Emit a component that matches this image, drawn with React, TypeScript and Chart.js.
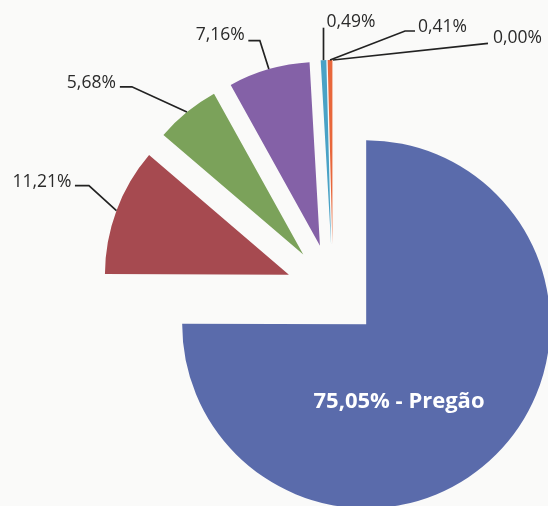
import React, { useEffect, useRef } from "react";
import { Chart, registerables } from "chart.js";

Chart.register(...registerables);

// ---- data ----
const CATEGORIES = ["Pregão", "Modalidade 2", "Modalidade 3", "Modalidade 4", "Modalidade 5", "Modalidade 6", "Modalidade 7"];
const VALUES = [75.05, 11.21, 5.68, 7.16, 0.49, 0.41, 0.0];
const COLORS = ["#5a6bab", "#a64a50", "#7ba25a", "#8461a7", "#4aa2c6", "#e8673c", "#9aa0a6"];

// ---- style / layout ----
const W = 548;
const H = 506;
const CENTER_X = 333;
const CENTER_Y = 291;
const RADIUS = 184;
const EXPLODE = 47;
const BG = "#fafaf9";
const FONT = "'Open Sans', Lato, sans-serif";

// leader layout per slice, relative to the outer mid-point of the slice
type LabelLayout = { pts: number[][]; text: number[]; align: CanvasTextAlign } | null;
const LABEL_LAYOUT: LabelLayout[] = [
  null,
  { pts: [[-27.5, -25], [-41.5, -25]], text: [-45, -28.5], align: "right" },
  { pts: [[-55, -25.3], [-67, -25.3]], text: [-71, -29.5], align: "right" },
  { pts: [[-9, -28.5], [-20.5, -28.5]], text: [-24, -34], align: "right" },
  { pts: [[0, -32.5]], text: [3, -38.5], align: "left" },
  { pts: [[75, -29], [85, -29]], text: [88, -33], align: "left" },
  { pts: [[155, -16.7]], text: [160, -21.7], align: "left" },
];
const MAIN_LABEL_OFFSET = [66, 111];

const fmt = (v: number) => v.toFixed(2).replace(".", ",") + "%";

const explodePlugin = {
  id: "explodeDraw",
  beforeDatasetDraw(chart: any, args: any) {
    const ctx = chart.ctx as CanvasRenderingContext2D;
    args.meta.data.forEach((arc: any) => {
      const mid = (arc.startAngle + arc.endAngle) / 2;
      ctx.save();
      ctx.translate(Math.cos(mid) * EXPLODE, Math.sin(mid) * EXPLODE);
      arc.draw(ctx);
      ctx.restore();
    });
    return false;
  },
};

const labelPlugin = {
  id: "leaderLabels",
  afterDatasetsDraw(chart: any) {
    const ctx = chart.ctx as CanvasRenderingContext2D;
    const meta = chart.getDatasetMeta(0);
    meta.data.forEach((arc: any, i: number) => {
      const mid = (arc.startAngle + arc.endAngle) / 2;
      if (i === 0) {
        ctx.save();
        ctx.fillStyle = "#ffffff";
        ctx.font = `bold 22px ${FONT}`;
        ctx.textAlign = "center";
        ctx.textBaseline = "middle";
        ctx.fillText(`${fmt(VALUES[i])} - ${CATEGORIES[i]}`, arc.x + MAIN_LABEL_OFFSET[0], arc.y + MAIN_LABEL_OFFSET[1]);
        ctx.restore();
        return;
      }
      const lay = LABEL_LAYOUT[i];
      if (!lay) return;
      const ax = arc.x + Math.cos(mid) * (EXPLODE + arc.outerRadius);
      const ay = arc.y + Math.sin(mid) * (EXPLODE + arc.outerRadius);
      ctx.save();
      ctx.strokeStyle = "#222222";
      ctx.lineWidth = 1.7;
      ctx.beginPath();
      ctx.moveTo(ax, ay);
      lay.pts.forEach((p) => ctx.lineTo(ax + p[0], ay + p[1]));
      ctx.stroke();
      ctx.fillStyle = "#2a2a2a";
      ctx.font = `17.5px ${FONT}`;
      ctx.textAlign = lay.align;
      ctx.textBaseline = "middle";
      ctx.fillText(fmt(VALUES[i]), ax + lay.text[0], ay + lay.text[1]);
      ctx.restore();
    });
  },
};

export default function App() {
  const ref = useRef<HTMLCanvasElement>(null);
  useEffect(() => {
    document.body.style.margin = "0";
    const chart = new Chart(ref.current as HTMLCanvasElement, {
      type: "pie",
      data: {
        labels: CATEGORIES,
        datasets: [
          {
            data: VALUES,
            backgroundColor: COLORS,
            borderWidth: 0,
            hoverOffset: 0,
          },
        ],
      },
      options: {
        responsive: false,
        animation: false,
        events: [],
        radius: RADIUS,
        layout: {
          padding: { left: 2 * CENTER_X - W, top: 2 * CENTER_Y - H, right: 0, bottom: 0 },
        },
        plugins: {
          legend: { display: false },
          tooltip: { enabled: false },
        },
      } as any,
      plugins: [explodePlugin, labelPlugin],
    });
    return () => chart.destroy();
  }, []);
  return (
    <div style={{ position: "fixed", left: 0, top: 0, width: W, height: H, background: BG }}>
      <canvas ref={ref} width={W} height={H} style={{ width: W, height: H, display: "block" }} />
    </div>
  );
}
